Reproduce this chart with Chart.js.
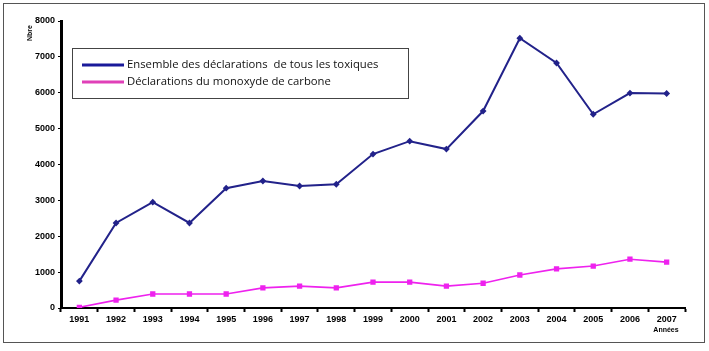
<!DOCTYPE html>
<html>
<head>
<meta charset="utf-8">
<script src="https://cdn.jsdelivr.net/npm/chart.js@4/dist/chart.umd.min.js"></script>
<style>
  html, body { margin: 0; padding: 0; background: #fff; }
  #wrap { position: relative; width: 709px; height: 351px; }
  #frame { position: absolute; left: 3px; top: 3px; width: 700px; height: 338px; border: 1px solid #555; }
  canvas { position: absolute; left: 0; top: 0; }
</style>
</head>
<body>
<div id="wrap">
  <div id="frame"></div>
  <canvas id="chart1" width="709" height="351"></canvas>
</div>
<script>
// annees
const annees = ['1991','1992','1993','1994','1995','1996','1997','1998','1999','2000','2001','2002','2003','2004','2005','2006','2007'];
// ensemble des declarations
const totalToxiques = [750, 2370, 2950, 2370, 3340, 3540, 3400, 3450, 4290, 4650, 4430, 5490, 7520, 6830, 5400, 5990, 5980];
// monoxyde de carbone
const monoxyde = [20, 220, 390, 390, 390, 560, 610, 560, 720, 720, 610, 690, 920, 1090, 1170, 1360, 1280];
const yTicks = [0, 1000, 2000, 3000, 4000, 5000, 6000, 7000, 8000];

const tickFont = { family: 'Liberation Sans', size: 9, weight: 'bold' };

// legende dans un cadre, dessinee a la main
const legendeCadre = {
  id: 'legendeCadre',
  afterDraw(chart) {
    const ctx = chart.ctx;
    ctx.save();
    ctx.fillStyle = '#fff';
    ctx.fillRect(72, 48, 337, 50);
    ctx.strokeStyle = '#444';
    ctx.lineWidth = 1;
    ctx.strokeRect(72.5, 48.5, 336, 50);
    const couleurs = ['#1a1a9a', '#e040b8'];
    const ys = [65, 82];
    chart.data.datasets.forEach((ds, i) => {
      ctx.strokeStyle = couleurs[i];
      ctx.lineWidth = 3;
      ctx.beginPath();
      ctx.moveTo(82, ys[i]);
      ctx.lineTo(124, ys[i]);
      ctx.stroke();
      ctx.fillStyle = '#111';
      ctx.font = '11.3px "Open Sans"';
      ctx.textBaseline = 'middle';
      ctx.fillText(ds.label, 127, ys[i]);
    });
    // titres des axes
    ctx.fillStyle = '#000';
    ctx.font = 'bold 7px "Liberation Sans"';
    ctx.save();
    ctx.translate(30, 33);
    ctx.rotate(-Math.PI / 2);
    ctx.textAlign = 'center';
    ctx.textBaseline = 'middle';
    ctx.fillText('Nbre', 0, 0);
    ctx.restore();
    ctx.textAlign = 'center';
    ctx.textBaseline = 'middle';
    ctx.fillText('Années', 666, 330);
    ctx.restore();
  }
};

const contexte = document.querySelector('#chart1').getContext('2d');
let graphique = new Chart(contexte, {
  type: 'line',
  data: {
    labels: annees,
    datasets: [
      {
        label: 'Ensemble des déclarations  de tous les toxiques',
        data: totalToxiques,
        borderColor: '#22228a',
        backgroundColor: '#22228a',
        borderWidth: 2,
        pointStyle: 'rectRot',
        pointRadius: 2,
        tension: 0
      },
      {
        label: 'Déclarations du monoxyde de carbone',
        data: monoxyde,
        borderColor: '#ee22ee',
        backgroundColor: '#ee22ee',
        borderWidth: 1.6,
        pointStyle: 'rect',
        pointRadius: 2.6,
        tension: 0
      }
    ]
  },
  options: {
    responsive: false,
    animation: false,
    layout: { padding: { left: 0, top: 21, right: 24, bottom: 23 } },
    scales: {
      x: {
        offset: true,
        grid: {
          offset: true,
          drawOnChartArea: false,
          drawTicks: true,
          tickLength: 4,
          tickWidth: 2,
          color: '#000'
        },
        border: { display: true, color: '#000', width: 2 },
        ticks: { color: '#000', font: tickFont, maxRotation: 0, autoSkip: false, padding: 2 },
        afterFit(scale) { scale.height = 20; }
      },
      y: {
        min: 0,
        max: 8000,
        afterBuildTicks(scale) { scale.ticks = yTicks.map(v => ({ value: v })); },
        grid: {
          drawOnChartArea: false,
          drawTicks: true,
          tickLength: 3,
          color: '#000'
        },
        border: { display: true, color: '#000', width: 3 },
        ticks: { color: '#000', font: tickFont, padding: 3, callback: v => String(v) },
        afterFit(scale) { scale.width = 61; }
      }
    },
    plugins: {
      legend: { display: false },
      tooltip: { enabled: false }
    }
  },
  plugins: [legendeCadre]
});
</script>
</body>
</html>
